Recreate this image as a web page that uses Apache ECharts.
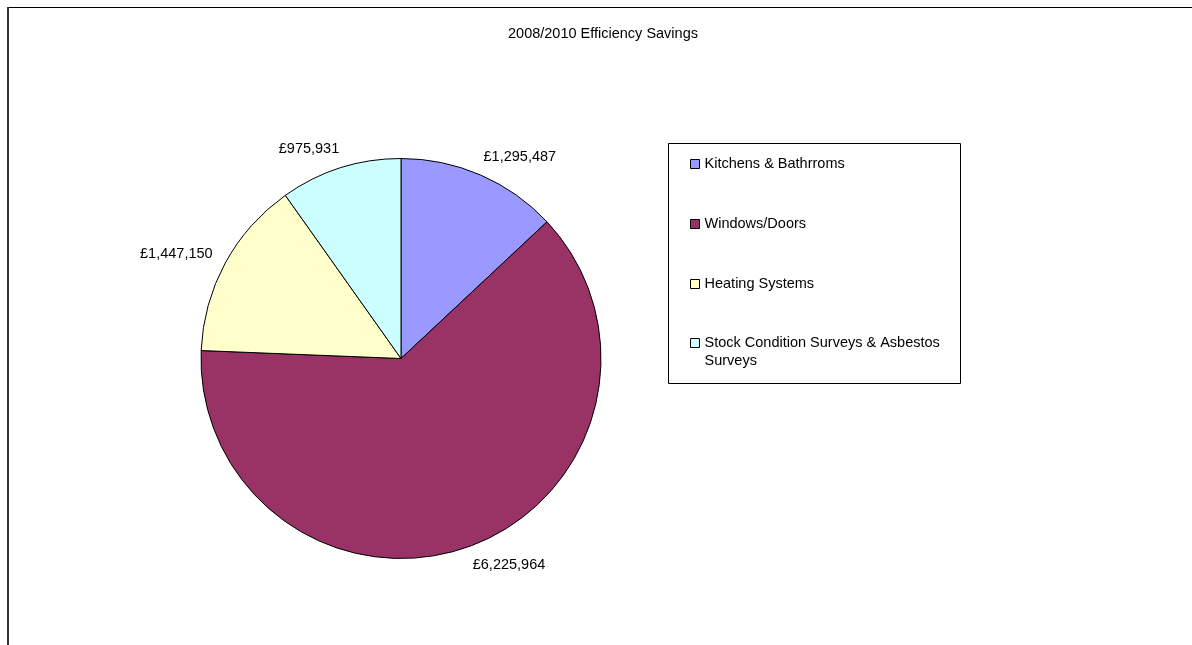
<!DOCTYPE html>
<html>
<head>
<meta charset="utf-8">
<script src="https://cdn.jsdelivr.net/npm/echarts@6/dist/echarts.min.js"></script>
<style>
html,body{margin:0;padding:0;background:#fff;}
#chart{width:1192px;height:645px;}
</style>
</head>
<body>
<div id="chart"></div>
<script>
var chartTitle = '2008/2010 Efficiency Savings';
var categories = ['Kitchens & Bathrroms', 'Windows/Doors', 'Heating Systems', 'Stock Condition Surveys & Asbestos Surveys'];
var savings = [1295487, 6225964, 1447150, 975931];
var sliceColors = ['#9999FF', '#993366', '#FFFFCC', '#CCFFFF'];

var FONT = '"Liberation Sans", Arial, sans-serif';
var FS = 14.5;
var LH = 17.5;

function fmt(v) {
  return '\u00A3' + v.toString().replace(/\B(?=(\d{3})+(?!\d))/g, ',');
}

var measureCtx = document.createElement('canvas').getContext('2d');
measureCtx.font = FS + 'px ' + FONT;
function wrapLines(text, maxW) {
  var words = text.split(' ');
  var lines = [];
  var cur = '';
  words.forEach(function (w) {
    var t = cur ? cur + ' ' + w : w;
    if (cur && measureCtx.measureText(t).width > maxW) {
      lines.push(cur);
      cur = w;
    } else {
      cur = t;
    }
  });
  if (cur) lines.push(cur);
  return lines;
}
// Multi-line legend entries: keep the marker aligned with the first line
// (the text block is centred on the marker, so pad with blank lines above).
function legendFormatter(name) {
  var lines = wrapLines(name, 250);
  var pad = [];
  for (var i = 1; i < lines.length; i++) pad.push(' ');
  return pad.concat(lines).join('\n');
}

var chart = echarts.init(document.getElementById('chart'), null, {renderer: 'canvas'});

var legendText = {fontFamily: FONT, fontSize: FS, color: '#000', lineHeight: LH};
var legendBase = {
  orient: 'vertical',
  left: 690,
  padding: 0,
  itemGap: 42.5,
  itemWidth: 9,
  itemHeight: 9,
  icon: 'rect',
  selectedMode: false,
  itemStyle: {borderColor: '#000', borderWidth: 1},
  textStyle: legendText,
  formatter: legendFormatter
};

var option = {
  backgroundColor: '#ffffff',
  animation: false,
  title: {
    text: chartTitle,
    left: 508,
    top: 24.5,
    padding: 0,
    textStyle: {fontFamily: FONT, fontSize: FS, fontWeight: 'normal', color: '#000', lineHeight: 18}
  },
  legend: [
    Object.assign({}, legendBase, {
      top: 155.25,
      data: categories.slice(0, 3)
    }),
    Object.assign({}, legendBase, {
      top: 316.75,
      data: categories.slice(3)
    })
  ],
  graphic: [
    {type: 'line', shape: {x1: 8, y1: 7.5, x2: 1192, y2: 7.5}, style: {stroke: '#000', lineWidth: 1}, silent: true},
    {type: 'line', shape: {x1: 8, y1: 7, x2: 8, y2: 645}, style: {stroke: '#333', lineWidth: 2}, silent: true},
    {type: 'rect', shape: {x: 668.5, y: 143.5, width: 292, height: 240}, style: {fill: 'none', stroke: '#000', lineWidth: 1}, silent: true, z: -1}
  ],
  series: [{
    type: 'pie',
    center: [401, 358.5],
    radius: [0, 200],
    startAngle: 90,
    clockwise: true,
    data: categories.map(function (c, i) { return {name: c, value: savings[i]}; }),
    color: sliceColors,
    itemStyle: {borderColor: '#000', borderWidth: 1},
    label: {
      show: true,
      position: 'outside',
      distanceToLabelLine: -5,
      formatter: function (p) { return fmt(p.value); },
      fontFamily: FONT, fontSize: FS, color: '#000'
    },
    labelLine: {show: false, length: 20, length2: 0},
    emphasis: {disabled: true},
    silent: true
  }]
};
chart.setOption(option);
</script>
</body>
</html>
